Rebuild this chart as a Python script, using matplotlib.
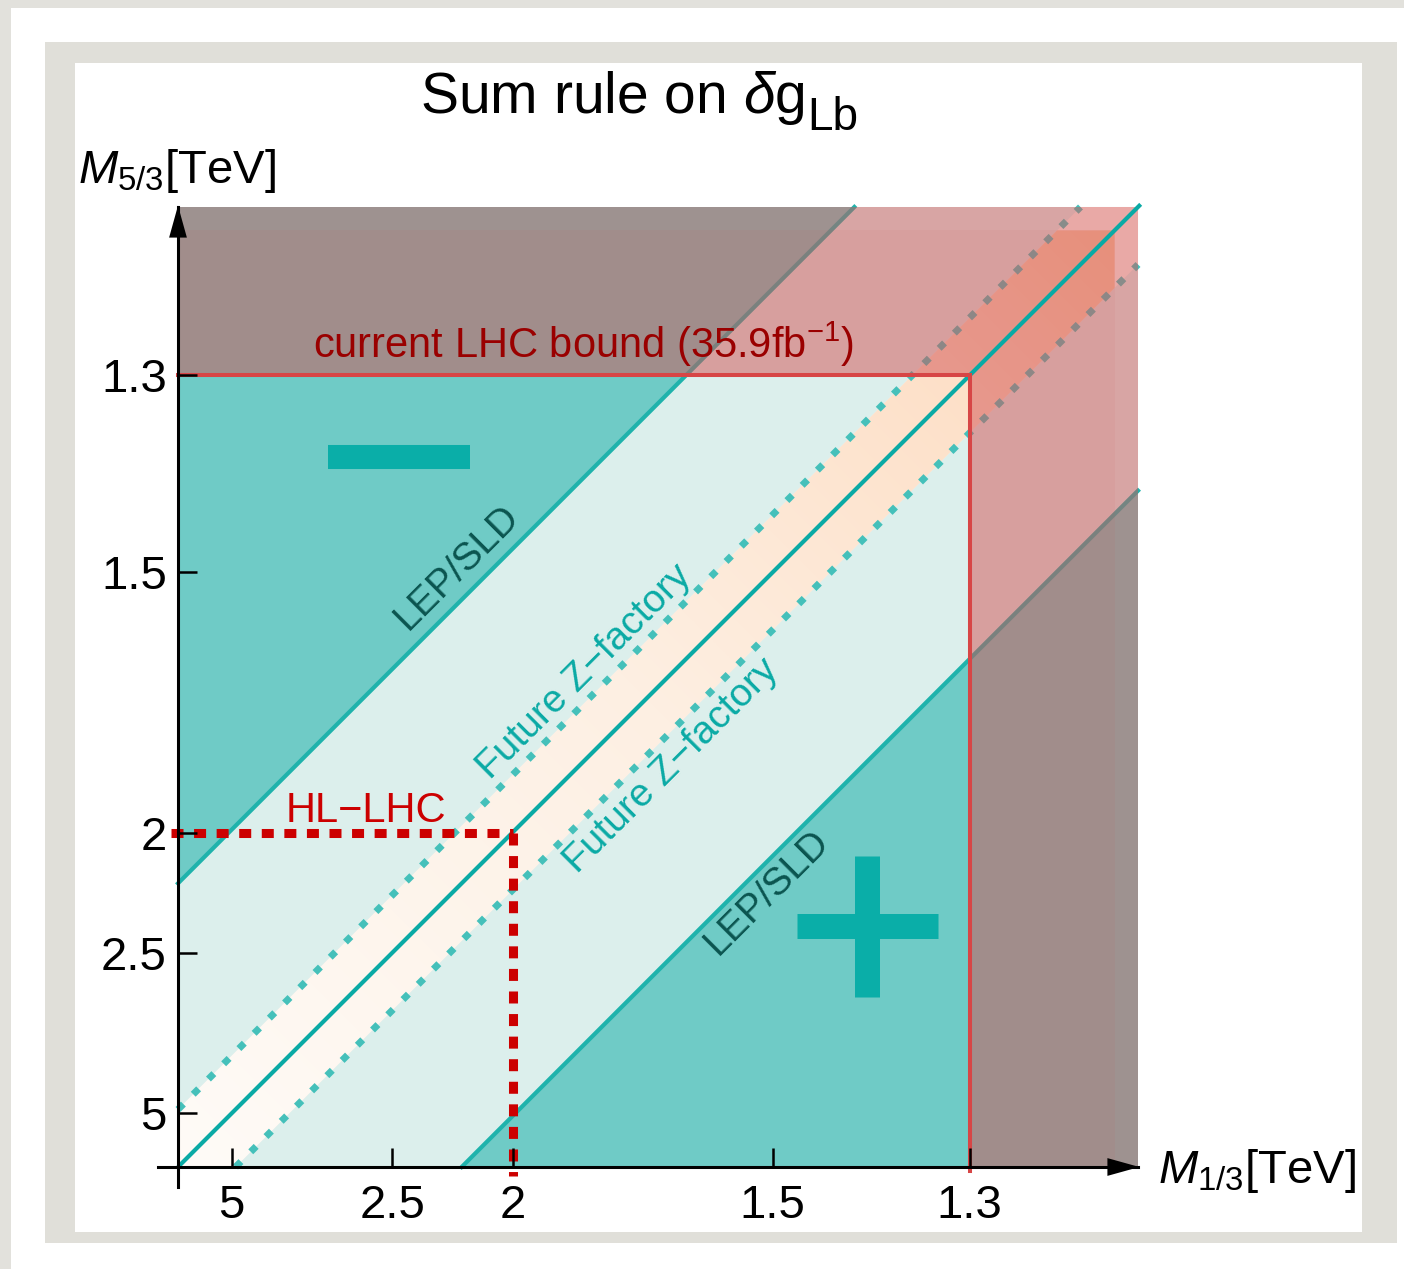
import numpy as np
import matplotlib.pyplot as plt
from matplotlib.patches import Rectangle, Polygon
from matplotlib.colors import LinearSegmentedColormap

plt.rcParams['font.family'] = ['Liberation Sans', 'DejaVu Sans']
plt.rcParams['mathtext.fontset'] = 'custom'
plt.rcParams['mathtext.rm'] = 'Liberation Sans'
plt.rcParams['mathtext.it'] = 'Liberation Sans:italic'
plt.rcParams['mathtext.bf'] = 'Liberation Sans:bold'

# ---- data (masses in TeV, axes are 1/M^2) ----
x_tick_mass = [5, 2.5, 2, 1.5, 1.3]
y_tick_mass = [5, 2.5, 2, 1.5, 1.3]
lhc_bound = 1.3        # current LHC bound, 35.9 fb^-1
hl_lhc_bound = 2.0     # HL-LHC reach
lep_width = 0.212      # LEP/SLD band half width in 1/M^2
zfac_width = 0.043     # future Z-factory band half width
axis_max = 0.7175
inner_max = 0.700

teal = '#6fcbc6'
light_teal = '#dcefec'
cream = '#fdf6ef'
line_teal = '#0aaaa5'
lep_teal = '#1fb3ac'
dot_teal = '#45c0ba'
red_fill = np.array([212, 83, 84]) / 255
red_line = '#d74646'

W, H = 1404, 1269
S = 1338.0           # px per unit of 1/M^2
X0, Y0 = 178, 1167   # pixel position of origin

fig = plt.figure(figsize=(W / 100, H / 100), dpi=100, facecolor='white')


def px_rect(x0, y0, x1, y1, color):
    fig.add_artist(Rectangle((x0 / W, 1 - y1 / H), (x1 - x0) / W, (y1 - y0) / H,
                             transform=fig.transFigure, fc=color, ec='none', zorder=-10))


# photo frame
px_rect(0, 0, W, 8, '#e2e1dc')
px_rect(0, 0, 11, H, '#e2e1dc')
px_rect(45, 42, 1397, 1243, '#e0dfd9')
px_rect(75, 63, 1362, 1232, 'white')

lo, hi = -0.03, 0.74
ax = fig.add_axes([(X0 + lo * S) / W, (H - (Y0 - lo * S)) / H,
                   (hi - lo) * S / W, (hi - lo) * S / H])
ax.patch.set_visible(False)

X = axis_max
b = 1 / lhc_bound ** 2
hl = 1 / hl_lhc_bound ** 2
I = inner_max


def band(w, top):
    return [(0, 0), (w, 0), (top, top - w), (top, top), (top - w, top), (0, w)]


ax.add_patch(Rectangle((0, 0), X, X, fc=teal, ec='none', zorder=1))
ax.add_patch(Polygon(band(lep_width, X), closed=True, fc=light_teal, ec='none', zorder=2))
ax.add_patch(Polygon(band(zfac_width, X), closed=True, fc=cream, ec='none', zorder=3))

# shaded inner band (gets more orange towards the LHC bound)
g = np.linspace(0, I, 300)
gx, gy = np.meshgrid(g, g)
cmap = LinearSegmentedColormap.from_list('band', [(0, '#fffbf7'), (0.5, '#fdefe2'),
                                                  (0.84, '#fde0c8'), (1.0, '#fdd0a6')])
clip = Polygon(band(zfac_width, I), closed=True, transform=ax.transData)
im = ax.imshow((gx + gy) / 2, extent=[0, I, 0, I], origin='lower', cmap=cmap,
               vmin=0, vmax=I, zorder=3.5, aspect='auto', interpolation='bilinear')
im.set_clip_path(clip)

# LEP/SLD and future Z-factory edges
ax.plot([0, X - lep_width], [lep_width, X], color=lep_teal, lw=3.0, zorder=4)
ax.plot([lep_width, X], [0, X - lep_width], color=lep_teal, lw=3.0, zorder=4)
ax.plot([0, X - zfac_width], [zfac_width, X], color=dot_teal, lw=5.0,
        dashes=(1.1, 2.0), zorder=4)
ax.plot([zfac_width, X], [0, X - zfac_width], color=dot_teal, lw=5.0,
        dashes=(1.1, 2.0), zorder=4)

# LHC excluded region
ax.add_patch(Polygon([(0, b), (b, b), (b, 0), (X, 0), (X, X), (0, X)], closed=True,
                     fc=red_fill, alpha=0.47, ec='none', zorder=5))
ax.add_patch(Polygon([(0, b), (b, b), (b, 0), (I, 0), (I, I), (0, I)], closed=True,
                     fc=red_fill, alpha=0.07, ec='none', zorder=5))

# sum rule line
ax.plot([0, X + 0.002], [0, X + 0.002], color=line_teal, lw=3.0, zorder=7,
        solid_capstyle='butt', clip_on=False)

# current LHC bound
ax.plot([0, b], [b, b], color=red_line, lw=2.9, zorder=7)
ax.plot([b, b], [-0.003, b], color=red_line, lw=2.9, zorder=7, clip_on=False)

# HL-LHC reach
ax.plot([-0.005, hl], [hl, hl], color='#cc0000', lw=6.5, dashes=(1.33, 1.17), zorder=8)
ax.plot([hl, hl], [hl, -0.007], color='#cc0000', lw=6.5, dashes=(1.33, 1.17), zorder=8)

# sign markers
ax.plot([0.112, 0.218], [0.531, 0.531], color='#0aaea8', lw=17.3,
        solid_capstyle='butt', zorder=6)
ax.plot([0.4626, 0.568], [0.180, 0.180], color='#0aaea8', lw=18,
        solid_capstyle='butt', zorder=6)
ax.plot([0.515, 0.515], [0.127, 0.2325], color='#0aaea8', lw=18,
        solid_capstyle='butt', zorder=6)

# labels
ax.text(0.303, 0.605, 'current LHC bound (35.9fb$^{-1}$)', color='#9a0000',
        fontsize=30, ha='center', va='baseline', zorder=9)
ax.text(0.1405, 0.258, 'HL\u2212LHC', color='#cc0000', fontsize=30,
        ha='center', va='baseline', zorder=9)
for (tx, ty) in [(0.209, 0.448), (0.440, 0.205)]:
    ax.text(tx, ty, 'LEP/SLD', color='#0b5550', fontsize=28, rotation=45,
            rotation_mode='anchor', ha='center', va='center', zorder=9)
for (tx, ty) in [(0.304, 0.370), (0.369, 0.300)]:
    ax.text(tx, ty, 'Future Z\u2212factory', color=line_teal, fontsize=28, rotation=45,
            rotation_mode='anchor', ha='center', va='center', zorder=9)

# axes
for side in ['top', 'right']:
    ax.spines[side].set_visible(False)
for side in ['left', 'bottom']:
    ax.spines[side].set_position(('data', 0))
    ax.spines[side].set_bounds(-0.015, X)
    ax.spines[side].set_linewidth(2.2)
    ax.spines[side].set_zorder(20)
ax.xaxis.set_zorder(20)
ax.yaxis.set_zorder(20)

ax.set_xticks(1 / np.array(x_tick_mass) ** 2, labels=[f'{m:g}' for m in x_tick_mass])
ax.set_yticks(1 / np.array(y_tick_mass) ** 2, labels=[f'{m:g}' for m in y_tick_mass])
ax.tick_params(direction='in', length=13.7, width=1.8, labelsize=34, color='black')
ax.tick_params(axis='x', pad=12)
ax.tick_params(axis='y', pad=8)

arrow = dict(arrowstyle='-|>,head_length=1.15,head_width=0.32', color='black',
             lw=0, mutation_scale=20, shrinkA=0, shrinkB=0)
ax.annotate('', xy=(X + 0.001, 0), xytext=(X - 0.05, 0), arrowprops=arrow,
            annotation_clip=False, zorder=21)
ax.annotate('', xy=(0, X + 0.001), xytext=(0, X - 0.05), arrowprops=arrow,
            annotation_clip=False, zorder=21)

ax.set_xlim(lo, hi)
ax.set_ylim(lo, hi)

# title: subscript kept nearly full size, as in the original
title = fig.text(420 / W, 1 - 113 / H, r'Sum rule on $\delta$g', fontsize=41,
                 ha='left', va='baseline')
fig.canvas.draw()
tb = title.get_window_extent()
fig.text((tb.x1 + 2) / W, 1 - 130 / H, 'Lb', fontsize=33, ha='left', va='baseline')

fig.text(78 / W, 1 - 183 / H, r'$M_{5/3}$[TeV]', fontsize=34, ha='left', va='baseline')
fig.text(1158 / W, 1 - 1183 / H, r'$M_{1/3}$[TeV]', fontsize=34, ha='left', va='baseline')

fig.savefig('out.png', dpi=100, facecolor='white')
